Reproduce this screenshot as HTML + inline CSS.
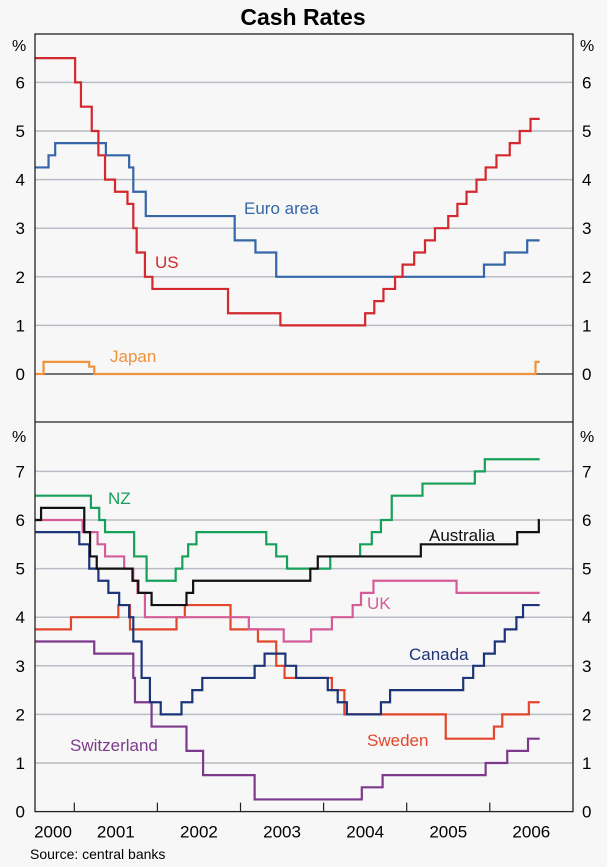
<!DOCTYPE html>
<html><head><meta charset="utf-8"><style>
html,body{margin:0;padding:0;background:#f7f7f7;}
svg{display:block;font-family:"Liberation Sans",Arial,sans-serif;}
</style></head><body>
<svg id="chart" width="607" height="867" viewBox="0 0 607 867">
<rect x="0" y="0" width="607" height="867" fill="#f7f7f7"/>
<text x="303" y="25" text-anchor="middle" font-size="23" font-weight="bold" fill="#000">Cash Rates</text>
<g id="grid"></g>
<g id="series"></g>
<g id="frame"></g>
<g id="labels"></g>
<text x="30" y="859" font-size="14" fill="#000">Source: central banks</text>
</svg>
<script>
// ---- data (dates as decimal years, values in %) ----
const years = [2000, 2001, 2002, 2003, 2004, 2005, 2006];
const topTicks = [0, 1, 2, 3, 4, 5, 6];
const bottomTicks = [0, 1, 2, 3, 4, 5, 6, 7];
const endDate = 2006.6;

const usDates = [2000.527, 2001.01, 2001.08, 2001.21, 2001.29, 2001.37, 2001.49, 2001.64, 2001.71, 2001.75, 2001.85, 2001.94, 2002.85, 2003.48, 2004.5, 2004.61, 2004.72, 2004.86, 2004.95, 2005.09, 2005.22, 2005.34, 2005.5, 2005.61, 2005.72, 2005.84, 2005.95, 2006.08, 2006.24, 2006.36, 2006.49];
const usValues = [6.5, 6.0, 5.5, 5.0, 4.5, 4.0, 3.75, 3.5, 3.0, 2.5, 2.0, 1.75, 1.25, 1.0, 1.25, 1.5, 1.75, 2.0, 2.25, 2.5, 2.75, 3.0, 3.25, 3.5, 3.75, 4.0, 4.25, 4.5, 4.75, 5.0, 5.25];

const euroDates = [2000.527, 2000.69, 2000.77, 2001.38, 2001.66, 2001.71, 2001.86, 2002.93, 2003.18, 2003.43, 2005.93, 2006.18, 2006.45];
const euroValues = [4.25, 4.5, 4.75, 4.5, 4.25, 3.75, 3.25, 2.75, 2.5, 2.0, 2.25, 2.5, 2.75];

const japanDates = [2000.527, 2000.63, 2001.18, 2001.24, 2006.55];
const japanValues = [0, 0.25, 0.15, 0, 0.25];

const nzDates = [2000.527, 2001.2, 2001.3, 2001.37, 2001.72, 2001.87, 2002.22, 2002.3, 2002.37, 2002.47, 2003.31, 2003.43, 2003.56, 2004.08, 2004.33, 2004.44, 2004.58, 2004.69, 2004.82, 2005.19, 2005.82, 2005.94];
const nzValues = [6.5, 6.25, 6.0, 5.75, 5.25, 4.75, 5.0, 5.25, 5.5, 5.75, 5.5, 5.25, 5.0, 5.25, 5.25, 5.5, 5.75, 6.0, 6.5, 6.75, 7.0, 7.25];

const ausDates = [2000.527, 2000.6, 2001.12, 2001.19, 2001.27, 2001.7, 2001.77, 2001.93, 2002.35, 2002.43, 2003.84, 2003.93, 2005.17, 2006.33, 2006.59];
const ausValues = [6.0, 6.25, 5.75, 5.25, 5.0, 4.75, 4.5, 4.25, 4.5, 4.75, 5.0, 5.25, 5.5, 5.75, 6.0];

const ukDates = [2000.527, 2001.1, 2001.28, 2001.37, 2001.6, 2001.71, 2001.76, 2001.85, 2003.1, 2003.52, 2003.85, 2004.1, 2004.35, 2004.45, 2004.6, 2005.6];
const ukValues = [6.0, 5.75, 5.5, 5.25, 5.0, 4.75, 4.5, 4.0, 3.75, 3.5, 3.75, 4.0, 4.25, 4.5, 4.75, 4.5];

const canDates = [2000.527, 2001.06, 2001.18, 2001.29, 2001.41, 2001.54, 2001.66, 2001.71, 2001.81, 2001.91, 2002.04, 2002.29, 2002.42, 2002.54, 2003.17, 2003.29, 2003.54, 2003.67, 2004.05, 2004.17, 2004.28, 2004.69, 2004.8, 2005.68, 2005.8, 2005.93, 2006.06, 2006.18, 2006.32, 2006.4];
const canValues = [5.75, 5.5, 5.0, 4.75, 4.5, 4.25, 4.0, 3.5, 2.75, 2.25, 2.0, 2.25, 2.5, 2.75, 3.0, 3.25, 3.0, 2.75, 2.5, 2.25, 2.0, 2.25, 2.5, 2.75, 3.0, 3.25, 3.5, 3.75, 4.0, 4.25];

const sweDates = [2000.527, 2000.96, 2001.53, 2001.67, 2002.23, 2002.33, 2002.88, 2003.21, 2003.43, 2003.53, 2004.1, 2004.25, 2005.47, 2006.05, 2006.15, 2006.47];
const sweValues = [3.75, 4.0, 4.25, 3.75, 4.0, 4.25, 3.75, 3.5, 3.0, 2.75, 2.5, 2.0, 1.5, 1.75, 2.0, 2.25];

const swiDates = [2000.527, 2001.24, 2001.71, 2001.73, 2001.93, 2002.35, 2002.55, 2003.17, 2004.46, 2004.71, 2005.95, 2006.21, 2006.46];
const swiValues = [3.5, 3.25, 2.75, 2.25, 1.75, 1.25, 0.75, 0.25, 0.5, 0.75, 1.0, 1.25, 1.5];

// ---- geometry ----
const L = 35, R = 573, T = 34, MID = 422, B = 811.6;
const yearPx = 83.1, x2001 = 74.3;
const unit = 48.6;
function xs(t){ return x2001 + (t - 2001) * yearPx; }
function yTop(v){ return 374 - v * unit; }
function yBot(v){ return B - v * unit; }

const NS = "http://www.w3.org/2000/svg";
function mk(tag, attrs, parent){
  const el = document.createElementNS(NS, tag);
  for (const k in attrs) el.setAttribute(k, attrs[k]);
  parent.appendChild(el);
  return el;
}
const grid = document.getElementById('grid');
const series = document.getElementById('series');
const frame = document.getElementById('frame');
const labels = document.getElementById('labels');

// gridlines & tick labels
topTicks.forEach(v => {
  const y = yTop(v);
  if (v > 0) {
    const g = mk('line', {x1:L, x2:R, y1:y, y2:y, stroke:'#b8bcc4', 'stroke-width':1.5}, grid);
    
    
  } else {
    const g = mk('line', {x1:L, x2:R, y1:y, y2:y, stroke:'#222', 'stroke-width':1.2}, grid);
    
    
  }
  const a = mk('text', {x:25, y:y+6, 'text-anchor':'end', 'font-size':17}, labels);
  a.textContent = v;
  
  
  const b = mk('text', {x:582, y:y+6, 'font-size':17}, labels);
  b.textContent = v;
  
  
});
bottomTicks.forEach(v => {
  const y = yBot(v);
  if (v > 0) {
    const g = mk('line', {x1:L, x2:R, y1:y, y2:y, stroke:'#b8bcc4', 'stroke-width':1.5}, grid);
    
    
  }
  const a = mk('text', {x:25, y:y+6, 'text-anchor':'end', 'font-size':17}, labels);
  a.textContent = v;
  
  
  const b = mk('text', {x:582, y:y+6, 'font-size':17}, labels);
  b.textContent = v;
  
  
});
[[12,51],[12,442]].forEach(p => {
  const a = mk('text', {x:p[0], y:p[1], 'font-size':16}, labels);
  a.textContent = '%';
  
  
  const b = mk('text', {x:580, y:p[1], 'font-size':16}, labels);
  b.textContent = '%';
  
  
});

// step series
function step(dates, vals, yf, color, name){
  let d = '';
  for (let i = 0; i < dates.length; i++) {
    const x = Math.max(L, xs(dates[i]));
    const y = yf(vals[i]);
    if (i === 0) d += 'M' + x + ' ' + y;
    else d += ' L' + x + ' ' + yf(vals[i-1]) + ' L' + x + ' ' + y;
  }
  d += ' L' + xs(endDate) + ' ' + yf(vals[vals.length-1]);
  const p = mk('path', {d:d, fill:'none', stroke:color, 'stroke-width':2.2, 'stroke-linejoin':'miter'}, series);
  
  
}
step(japanDates, japanValues, yTop, '#f0913c', 'japan-line');
step(euroDates, euroValues, yTop, '#3566a8', 'euro-area-line');
step(usDates, usValues, yTop, '#d2282e', 'us-line');
step(swiDates, swiValues, yBot, '#7d3a8c', 'switzerland-line');
step(sweDates, sweValues, yBot, '#e2472b', 'sweden-line');
step(ukDates, ukValues, yBot, '#d45d98', 'uk-line');
step(nzDates, nzValues, yBot, '#17a058', 'nz-line');
step(canDates, canValues, yBot, '#1c3578', 'canada-line');
step(ausDates, ausValues, yBot, '#111111', 'australia-line');

// frame
const fr = mk('rect', {x:L, y:T, width:R-L, height:B-T, fill:'none', stroke:'#222', 'stroke-width':1.3}, frame);


const dv = mk('line', {x1:L, x2:R, y1:MID, y2:MID, stroke:'#222', 'stroke-width':1.3}, frame);


years.forEach(yr => {
  const tx = xs(yr);
  if (tx > L + 2) {
    const t = mk('line', {x1:tx, x2:tx, y1:B, y2:B-9, stroke:'#222', 'stroke-width':1.2}, frame);
    
    
  }
  const cx = Math.max(xs(yr + 0.5), 53);
  const lab = mk('text', {x:cx, y:B+26, 'text-anchor':'middle', 'font-size':17}, labels);
  lab.textContent = yr;
  
  
});

// series labels
const seriesLabels = [
  ['Euro area', 244, 214, '#3566a8', 'euro-area-label'],
  ['US', 155, 268, '#d2282e', 'us-label'],
  ['Japan', 110, 362, '#f0913c', 'japan-label'],
  ['NZ', 108, 504, '#17a058', 'nz-label'],
  ['Australia', 429, 541, '#111111', 'australia-label'],
  ['UK', 367, 609, '#d45d98', 'uk-label'],
  ['Canada', 409, 660, '#1c3578', 'canada-label'],
  ['Sweden', 367, 746, '#e2472b', 'sweden-label'],
  ['Switzerland', 70, 751, '#7d3a8c', 'switzerland-label']
];
seriesLabels.forEach(s => {
  const t = mk('text', {x:s[1], y:s[2], 'font-size':17, fill:s[3]}, labels);
  t.textContent = s[0];
  
  
});
</script>
</body></html>
